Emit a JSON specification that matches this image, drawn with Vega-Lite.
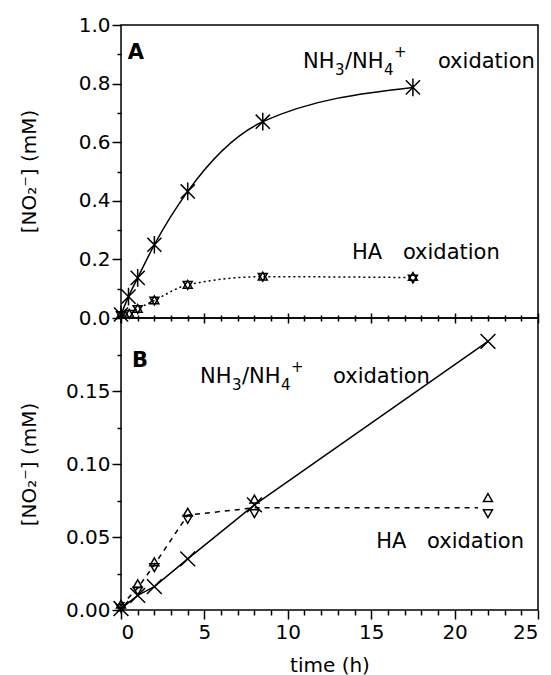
{
  "$schema": "https://vega.github.io/schema/vega-lite/v6.json",
  "bounds": "flush",
  "spacing": 0,
  "padding": {"left": 18, "top": 14, "right": 2, "bottom": 4},
  "config": {
    "view": {"stroke": "black", "strokeWidth": 1.5},
    "font": "DejaVu Sans",
    "axis": {
      "grid": false, "domainColor": "black", "tickColor": "black", "labelColor": "black", "titleColor": "black",
      "labelFont": "DejaVu Sans", "titleFont": "DejaVu Sans", "labelFontSize": 20, "titleFontSize": 20,
      "titleFontWeight": "normal", "domainWidth": 1.5, "tickWidth": 1.5
    }
  },
  "datasets": {
    "pts": [
      {"panel": "A", "series": "NH3", "t": 0, "v": 0.012},
      {"panel": "A", "series": "NH3", "t": 0.45, "v": 0.073},
      {"panel": "A", "series": "NH3", "t": 1, "v": 0.137},
      {"panel": "A", "series": "NH3", "t": 2, "v": 0.25},
      {"panel": "A", "series": "NH3", "t": 4, "v": 0.432},
      {"panel": "A", "series": "NH3", "t": 8.5, "v": 0.67},
      {"panel": "A", "series": "NH3", "t": 17.5, "v": 0.787},
      {"panel": "A", "series": "HA_up", "t": 0, "v": 0.012},
      {"panel": "A", "series": "HA_up", "t": 0.5, "v": 0.016},
      {"panel": "A", "series": "HA_up", "t": 1, "v": 0.033},
      {"panel": "A", "series": "HA_up", "t": 2, "v": 0.062},
      {"panel": "A", "series": "HA_up", "t": 4, "v": 0.115},
      {"panel": "A", "series": "HA_up", "t": 8.5, "v": 0.143},
      {"panel": "A", "series": "HA_up", "t": 17.5, "v": 0.142},
      {"panel": "A", "series": "HA_down", "t": 0, "v": 0.008},
      {"panel": "A", "series": "HA_down", "t": 0.5, "v": 0.012},
      {"panel": "A", "series": "HA_down", "t": 1, "v": 0.029},
      {"panel": "A", "series": "HA_down", "t": 2, "v": 0.058},
      {"panel": "A", "series": "HA_down", "t": 4, "v": 0.111},
      {"panel": "A", "series": "HA_down", "t": 8.5, "v": 0.139},
      {"panel": "A", "series": "HA_down", "t": 17.5, "v": 0.133},
      {"panel": "A", "series": "HA_curve", "t": 0, "v": 0.01},
      {"panel": "A", "series": "HA_curve", "t": 0.5, "v": 0.014},
      {"panel": "A", "series": "HA_curve", "t": 1, "v": 0.031},
      {"panel": "A", "series": "HA_curve", "t": 2, "v": 0.06},
      {"panel": "A", "series": "HA_curve", "t": 4, "v": 0.113},
      {"panel": "A", "series": "HA_curve", "t": 8.5, "v": 0.141},
      {"panel": "A", "series": "HA_curve", "t": 17.5, "v": 0.138},
      {"panel": "B", "series": "NH3", "t": 0, "v": 0.001},
      {"panel": "B", "series": "NH3", "t": 1, "v": 0.01},
      {"panel": "B", "series": "NH3", "t": 2, "v": 0.016},
      {"panel": "B", "series": "NH3", "t": 4, "v": 0.035},
      {"panel": "B", "series": "NH3", "t": 8, "v": 0.072},
      {"panel": "B", "series": "NH3", "t": 22, "v": 0.184},
      {"panel": "B", "series": "HA_up", "t": 0, "v": 0.004},
      {"panel": "B", "series": "HA_up", "t": 1, "v": 0.018},
      {"panel": "B", "series": "HA_up", "t": 2, "v": 0.033},
      {"panel": "B", "series": "HA_up", "t": 4, "v": 0.067},
      {"panel": "B", "series": "HA_up", "t": 8, "v": 0.076},
      {"panel": "B", "series": "HA_up", "t": 22, "v": 0.077},
      {"panel": "B", "series": "HA_down", "t": 0, "v": 0.001},
      {"panel": "B", "series": "HA_down", "t": 1, "v": 0.013},
      {"panel": "B", "series": "HA_down", "t": 2, "v": 0.029},
      {"panel": "B", "series": "HA_down", "t": 4, "v": 0.062},
      {"panel": "B", "series": "HA_down", "t": 8, "v": 0.066},
      {"panel": "B", "series": "HA_down", "t": 22, "v": 0.066},
      {"panel": "B", "series": "HA_curve", "t": 0, "v": 0.003},
      {"panel": "B", "series": "HA_curve", "t": 1, "v": 0.015},
      {"panel": "B", "series": "HA_curve", "t": 2, "v": 0.031},
      {"panel": "B", "series": "HA_curve", "t": 4, "v": 0.065},
      {"panel": "B", "series": "HA_curve", "t": 8, "v": 0.07},
      {"panel": "B", "series": "HA_curve", "t": 21.4, "v": 0.07}
    ],
    "labels": [
      {"panel": "A", "kind": "text", "label": "NH", "t": 10.91, "v": 0.853},
      {"panel": "A", "kind": "sub", "label": "3", "t": 12.83, "v": 0.853},
      {"panel": "A", "kind": "text", "label": "/NH", "t": 13.43, "v": 0.853},
      {"panel": "A", "kind": "sub", "label": "4", "t": 15.77, "v": 0.853},
      {"panel": "A", "kind": "sup", "label": "+", "t": 16.37, "v": 0.853},
      {"panel": "A", "kind": "text", "label": "oxidation", "t": 19.0, "v": 0.853},
      {"panel": "A", "kind": "text", "label": "HA", "t": 13.85, "v": 0.2},
      {"panel": "A", "kind": "text", "label": "oxidation", "t": 16.9, "v": 0.2},
      {"panel": "A", "kind": "letter", "label": "A", "t": 0.4, "v": 0.884},
      {"panel": "B", "kind": "text", "label": "NH", "t": 4.74, "v": 0.1554},
      {"panel": "B", "kind": "sub", "label": "3", "t": 6.65, "v": 0.1554},
      {"panel": "B", "kind": "text", "label": "/NH", "t": 7.25, "v": 0.1554},
      {"panel": "B", "kind": "sub", "label": "4", "t": 9.59, "v": 0.1554},
      {"panel": "B", "kind": "sup", "label": "+", "t": 10.19, "v": 0.1554},
      {"panel": "B", "kind": "text", "label": "oxidation", "t": 12.71, "v": 0.1554},
      {"panel": "B", "kind": "text", "label": "HA", "t": 15.3, "v": 0.0426},
      {"panel": "B", "kind": "text", "label": "oxidation", "t": 18.35, "v": 0.0426},
      {"panel": "B", "kind": "letter", "label": "B", "t": 0.66, "v": 0.1665}
    ]
  },
  "vconcat": [
    {
      "width": 417,
      "height": 293,
      "resolve": {"axis": {"x": "independent", "y": "independent"}},
      "layer": [
        {
          "data": {"name": "pts"},
          "transform": [{"filter": "datum.panel === 'A' && datum.series === 'NH3'"}],
          "mark": {"type": "line", "interpolate": "monotone", "color": "black", "strokeWidth": 1.5},
          "encoding": {
            "x": {"field": "t", "type": "quantitative", "scale": {"domain": [0, 25], "nice": false},
              "axis": {"orient": "bottom", "values": [0, 5, 10, 15, 20, 25], "labels": false, "domain": false, "tickSize": 10, "offset": -5, "title": null}},
            "y": {"field": "v", "type": "quantitative", "scale": {"domain": [0, 1], "nice": false},
              "axis": {"orient": "left", "values": [0, 0.2, 0.4, 0.6, 0.8, 1.0], "format": ".1f", "domain": false, "tickSize": 9, "labelPadding": 2,
                "title": "[NO₂⁻] (mM)", "titleX": -92, "titleY": 146, "titleBaseline": "middle", "titleAngle": -90}}
          }
        },
        {
          "data": {"name": "pts"},
          "transform": [{"filter": "datum.panel === 'A' && datum.series === 'HA_curve'"}],
          "mark": {"type": "line", "interpolate": "monotone", "color": "black", "strokeWidth": 1.5, "strokeDash": [2, 3]},
          "encoding": {
            "x": {"field": "t", "type": "quantitative",
              "axis": {"orient": "bottom", "values": [1, 2, 3, 4, 6, 7, 8, 9, 11, 12, 13, 14, 16, 17, 18, 19, 21, 22, 23, 24], "labels": false, "domain": false, "tickSize": 6, "offset": -3, "title": null}},
            "y": {"field": "v", "type": "quantitative",
              "axis": {"orient": "left", "values": [0.1, 0.3, 0.5, 0.7, 0.9], "labels": false, "domain": false, "tickSize": 4, "title": null}}
          }
        },
        {
          "data": {"name": "pts"},
          "transform": [{"filter": "datum.panel === 'A' && datum.series === 'NH3'"}],
          "mark": {"type": "point", "shape": "M-1,-1L1,1M-1,1L1,-1M0,-1.25L0,1.25", "size": 200, "filled": false, "color": "black", "strokeWidth": 1.5, "opacity": 1},
          "encoding": {
            "x": {"field": "t", "type": "quantitative", "axis": null},
            "y": {"field": "v", "type": "quantitative", "axis": null}
          }
        },
        {
          "data": {"name": "pts"},
          "transform": [{"filter": "datum.panel === 'A' && datum.series === 'HA_up'"}],
          "mark": {"type": "point", "shape": "triangle-up", "size": 80, "filled": false, "color": "black", "strokeWidth": 1.5, "opacity": 1},
          "encoding": {
            "x": {"field": "t", "type": "quantitative", "axis": null},
            "y": {"field": "v", "type": "quantitative", "axis": null}
          }
        },
        {
          "data": {"name": "pts"},
          "transform": [{"filter": "datum.panel === 'A' && datum.series === 'HA_down'"}],
          "mark": {"type": "point", "shape": "triangle-down", "size": 80, "filled": false, "color": "black", "strokeWidth": 1.5, "opacity": 1},
          "encoding": {
            "x": {"field": "t", "type": "quantitative", "axis": null},
            "y": {"field": "v", "type": "quantitative", "axis": null}
          }
        },
        {
          "data": {"name": "labels"},
          "transform": [{"filter": "datum.panel === 'A' && datum.kind === 'text'"}],
          "mark": {"type": "text", "align": "left", "baseline": "alphabetic", "fontSize": 21, "color": "black"},
          "encoding": {
            "x": {"field": "t", "type": "quantitative", "axis": null},
            "y": {"field": "v", "type": "quantitative", "axis": null},
            "text": {"field": "label"}
          }
        },
        {
          "data": {"name": "labels"},
          "transform": [{"filter": "datum.panel === 'A' && datum.kind === 'sub'"}],
          "mark": {"type": "text", "align": "left", "baseline": "alphabetic", "fontSize": 15, "dy": 7, "color": "black"},
          "encoding": {
            "x": {"field": "t", "type": "quantitative", "axis": null},
            "y": {"field": "v", "type": "quantitative", "axis": null},
            "text": {"field": "label"}
          }
        },
        {
          "data": {"name": "labels"},
          "transform": [{"filter": "datum.panel === 'A' && datum.kind === 'sup'"}],
          "mark": {"type": "text", "align": "left", "baseline": "alphabetic", "fontSize": 15, "dy": -11, "color": "black"},
          "encoding": {
            "x": {"field": "t", "type": "quantitative", "axis": null},
            "y": {"field": "v", "type": "quantitative", "axis": null},
            "text": {"field": "label"}
          }
        },
        {
          "data": {"name": "labels"},
          "transform": [{"filter": "datum.panel === 'A' && datum.kind === 'letter'"}],
          "mark": {"type": "text", "align": "left", "baseline": "alphabetic", "fontSize": 21, "fontWeight": "bold", "color": "black"},
          "encoding": {
            "x": {"field": "t", "type": "quantitative", "axis": null},
            "y": {"field": "v", "type": "quantitative", "axis": null},
            "text": {"field": "label"}
          }
        }
      ]
    },
    {
      "width": 417,
      "height": 292,
      "resolve": {"axis": {"x": "independent", "y": "independent"}},
      "layer": [
        {
          "data": {"name": "pts"},
          "transform": [{"filter": "datum.panel === 'B' && datum.series === 'NH3'"}],
          "mark": {"type": "line", "color": "black", "strokeWidth": 1.5},
          "encoding": {
            "x": {"field": "t", "type": "quantitative", "scale": {"domain": [0, 25], "nice": false},
              "axis": {"orient": "bottom", "values": [0, 5, 10, 15, 20, 25], "domain": false, "tickSize": 9, "labelPadding": 3, "title": "time (h)", "titlePadding": 13}},
            "y": {"field": "v", "type": "quantitative", "scale": {"domain": [0, 0.2], "nice": false},
              "axis": {"orient": "left", "values": [0, 0.05, 0.1, 0.15], "format": ".2f", "domain": false, "tickSize": 9, "labelPadding": 2,
                "title": "[NO₂⁻] (mM)", "titleX": -92, "titleY": 146, "titleBaseline": "middle", "titleAngle": -90}}
          }
        },
        {
          "data": {"name": "pts"},
          "transform": [{"filter": "datum.panel === 'B' && datum.series === 'HA_curve'"}],
          "mark": {"type": "line", "color": "black", "strokeWidth": 1.5, "strokeDash": [5, 5]},
          "encoding": {
            "x": {"field": "t", "type": "quantitative",
              "axis": {"orient": "bottom", "values": [1, 2, 3, 4, 6, 7, 8, 9, 11, 12, 13, 14, 16, 17, 18, 19, 21, 22, 23, 24], "labels": false, "domain": false, "tickSize": 5, "title": null}},
            "y": {"field": "v", "type": "quantitative",
              "axis": {"orient": "left", "values": [0.025, 0.075, 0.125, 0.175], "labels": false, "domain": false, "tickSize": 4, "title": null}}
          }
        },
        {
          "data": {"name": "pts"},
          "transform": [{"filter": "datum.panel === 'B' && datum.series === 'NH3'"}],
          "mark": {"type": "point", "shape": "M-1,-1L1,1M-1,1L1,-1", "size": 220, "filled": false, "color": "black", "strokeWidth": 1.5, "opacity": 1},
          "encoding": {
            "x": {"field": "t", "type": "quantitative", "axis": null},
            "y": {"field": "v", "type": "quantitative", "axis": null}
          }
        },
        {
          "data": {"name": "pts"},
          "transform": [{"filter": "datum.panel === 'B' && datum.series === 'HA_up'"}],
          "mark": {"type": "point", "shape": "triangle-up", "size": 80, "filled": false, "color": "black", "strokeWidth": 1.5, "opacity": 1},
          "encoding": {
            "x": {"field": "t", "type": "quantitative", "axis": null},
            "y": {"field": "v", "type": "quantitative", "axis": null}
          }
        },
        {
          "data": {"name": "pts"},
          "transform": [{"filter": "datum.panel === 'B' && datum.series === 'HA_down'"}],
          "mark": {"type": "point", "shape": "triangle-down", "size": 80, "filled": false, "color": "black", "strokeWidth": 1.5, "opacity": 1},
          "encoding": {
            "x": {"field": "t", "type": "quantitative", "axis": null},
            "y": {"field": "v", "type": "quantitative", "axis": null}
          }
        },
        {
          "data": {"name": "labels"},
          "transform": [{"filter": "datum.panel === 'B' && datum.kind === 'text'"}],
          "mark": {"type": "text", "align": "left", "baseline": "alphabetic", "fontSize": 21, "color": "black"},
          "encoding": {
            "x": {"field": "t", "type": "quantitative", "axis": null},
            "y": {"field": "v", "type": "quantitative", "axis": null},
            "text": {"field": "label"}
          }
        },
        {
          "data": {"name": "labels"},
          "transform": [{"filter": "datum.panel === 'B' && datum.kind === 'sub'"}],
          "mark": {"type": "text", "align": "left", "baseline": "alphabetic", "fontSize": 15, "dy": 7, "color": "black"},
          "encoding": {
            "x": {"field": "t", "type": "quantitative", "axis": null},
            "y": {"field": "v", "type": "quantitative", "axis": null},
            "text": {"field": "label"}
          }
        },
        {
          "data": {"name": "labels"},
          "transform": [{"filter": "datum.panel === 'B' && datum.kind === 'sup'"}],
          "mark": {"type": "text", "align": "left", "baseline": "alphabetic", "fontSize": 15, "dy": -11, "color": "black"},
          "encoding": {
            "x": {"field": "t", "type": "quantitative", "axis": null},
            "y": {"field": "v", "type": "quantitative", "axis": null},
            "text": {"field": "label"}
          }
        },
        {
          "data": {"name": "labels"},
          "transform": [{"filter": "datum.panel === 'B' && datum.kind === 'letter'"}],
          "mark": {"type": "text", "align": "left", "baseline": "alphabetic", "fontSize": 21, "fontWeight": "bold", "color": "black"},
          "encoding": {
            "x": {"field": "t", "type": "quantitative", "axis": null},
            "y": {"field": "v", "type": "quantitative", "axis": null},
            "text": {"field": "label"}
          }
        }
      ]
    }
  ]
}
